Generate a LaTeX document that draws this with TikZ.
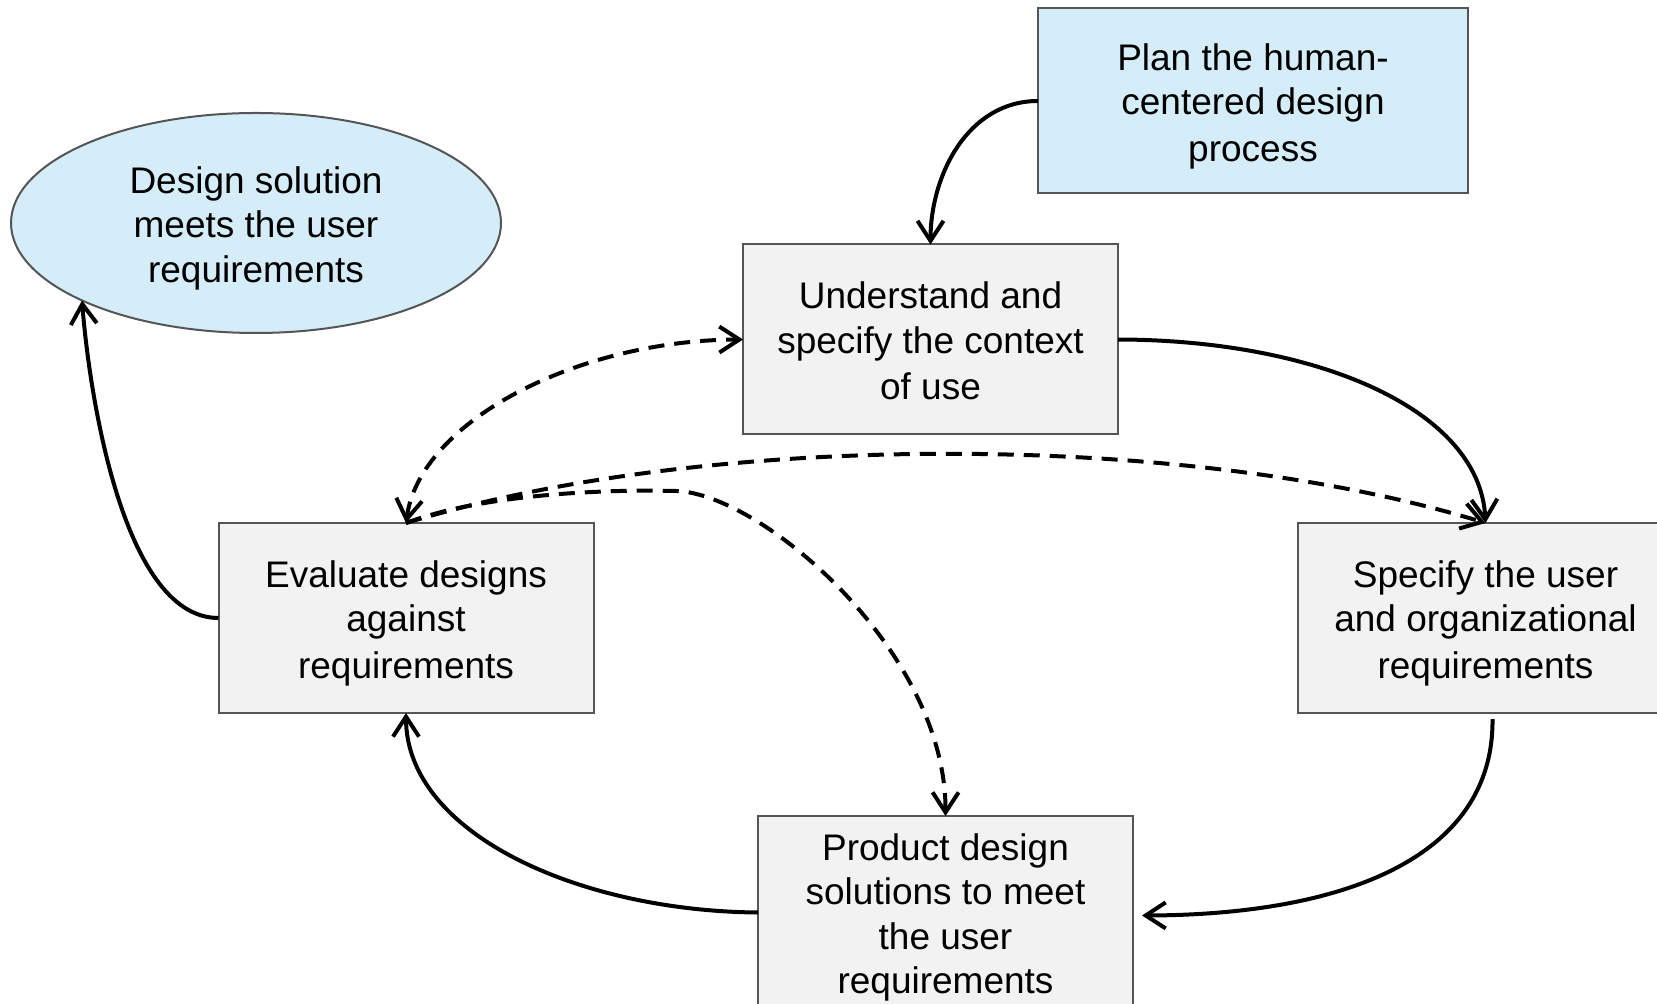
\documentclass[tikz,border=0pt]{standalone}
\usepackage{fontspec}
\setmainfont{Liberation Sans}
\usetikzlibrary{arrows.meta,shapes.geometric}
\definecolor{paleblue}{RGB}{212,237,248}
\definecolor{boxgray}{RGB}{242,242,242}
\definecolor{edgegray}{RGB}{85,85,85}
% a full line box: 1em above the baseline, the rest of the line pitch below
\newcommand\boxstrut{\rule[-3.7pt]{0pt}{22.2pt}}
\tikzset{
  barb/.tip={Straight Barb[length=10pt,width=13pt]},
  label text/.style={align=center, font=\fontsize{18.5pt}{22.2pt}\selectfont},
  stepbox/.style={draw=edgegray, line width=1pt, fill=boxgray,
    minimum width=187.5pt, minimum height=95pt, inner sep=0pt, outer sep=0pt,
    label text},
  startbox/.style={stepbox, fill=paleblue, minimum width=215pt, minimum height=92.5pt},
  goal/.style={ellipse, draw=edgegray, line width=1pt, fill=paleblue,
    minimum width=245pt, minimum height=110pt, inner sep=0pt, outer sep=0pt,
    label text},
  flow/.style={line width=2pt, -barb},
  iterate/.style={flow, dash pattern=on 8pt off 5pt},
}
\begin{document}
\begin{tikzpicture}[x=0.5pt,y=-0.5pt]
\path[use as bounding box, clip] (0,0) rectangle (1657,1004);

% activities
\node[startbox] (plan) at (1253,101) {\boxstrut Plan the human-\\centered design\\process\boxstrut};
\node[goal] (ell) at (256,223) {\boxstrut Design solution\\meets the user\\requirements\boxstrut};
\node[stepbox] (und) at (930.5,339.5) {\boxstrut Understand and\\specify the context\\of use\boxstrut};
\node[stepbox] (eval) at (406,618) {\boxstrut Evaluate designs\\against\\requirements\boxstrut};
\node[stepbox] (spec) at (1485.5,618) {\boxstrut Specify the user\\and organizational\\requirements\boxstrut};
\node[stepbox, minimum height=96.5pt] (prod) at (945.5,912.5) {\boxstrut Product design\\solutions to meet\\the user\\requirements\boxstrut};

% main cycle
\draw[flow] (plan.west) .. controls (968,101) and (930.5,175) .. (und.north);
\draw[flow] (und.east) .. controls (1318,340) and (1480,410) .. (spec.north);
\draw[flow] ([shift={(7,6)}]spec.south) .. controls (1494,859) and (1341,915) .. ([shift={(9,3)}]prod.east);
\draw[flow] (prod.west) .. controls (578,911) and (406,833) .. (eval.south);
\draw[flow] (eval.west) .. controls (120,618) and (88,380) .. (ell.204);

% iterations
\draw[iterate, barb-barb] (eval.north) .. controls (420,420) and (580,340) .. (und.west);
\draw[iterate] (eval.north) .. controls (707,431) and (1185,431) .. (spec.north);
\draw[iterate] (eval.north) .. controls (480,495) and (600,489) .. (676,491)
  .. controls (760,493) and (946,650) .. (prod.north);
\end{tikzpicture}
\end{document}
